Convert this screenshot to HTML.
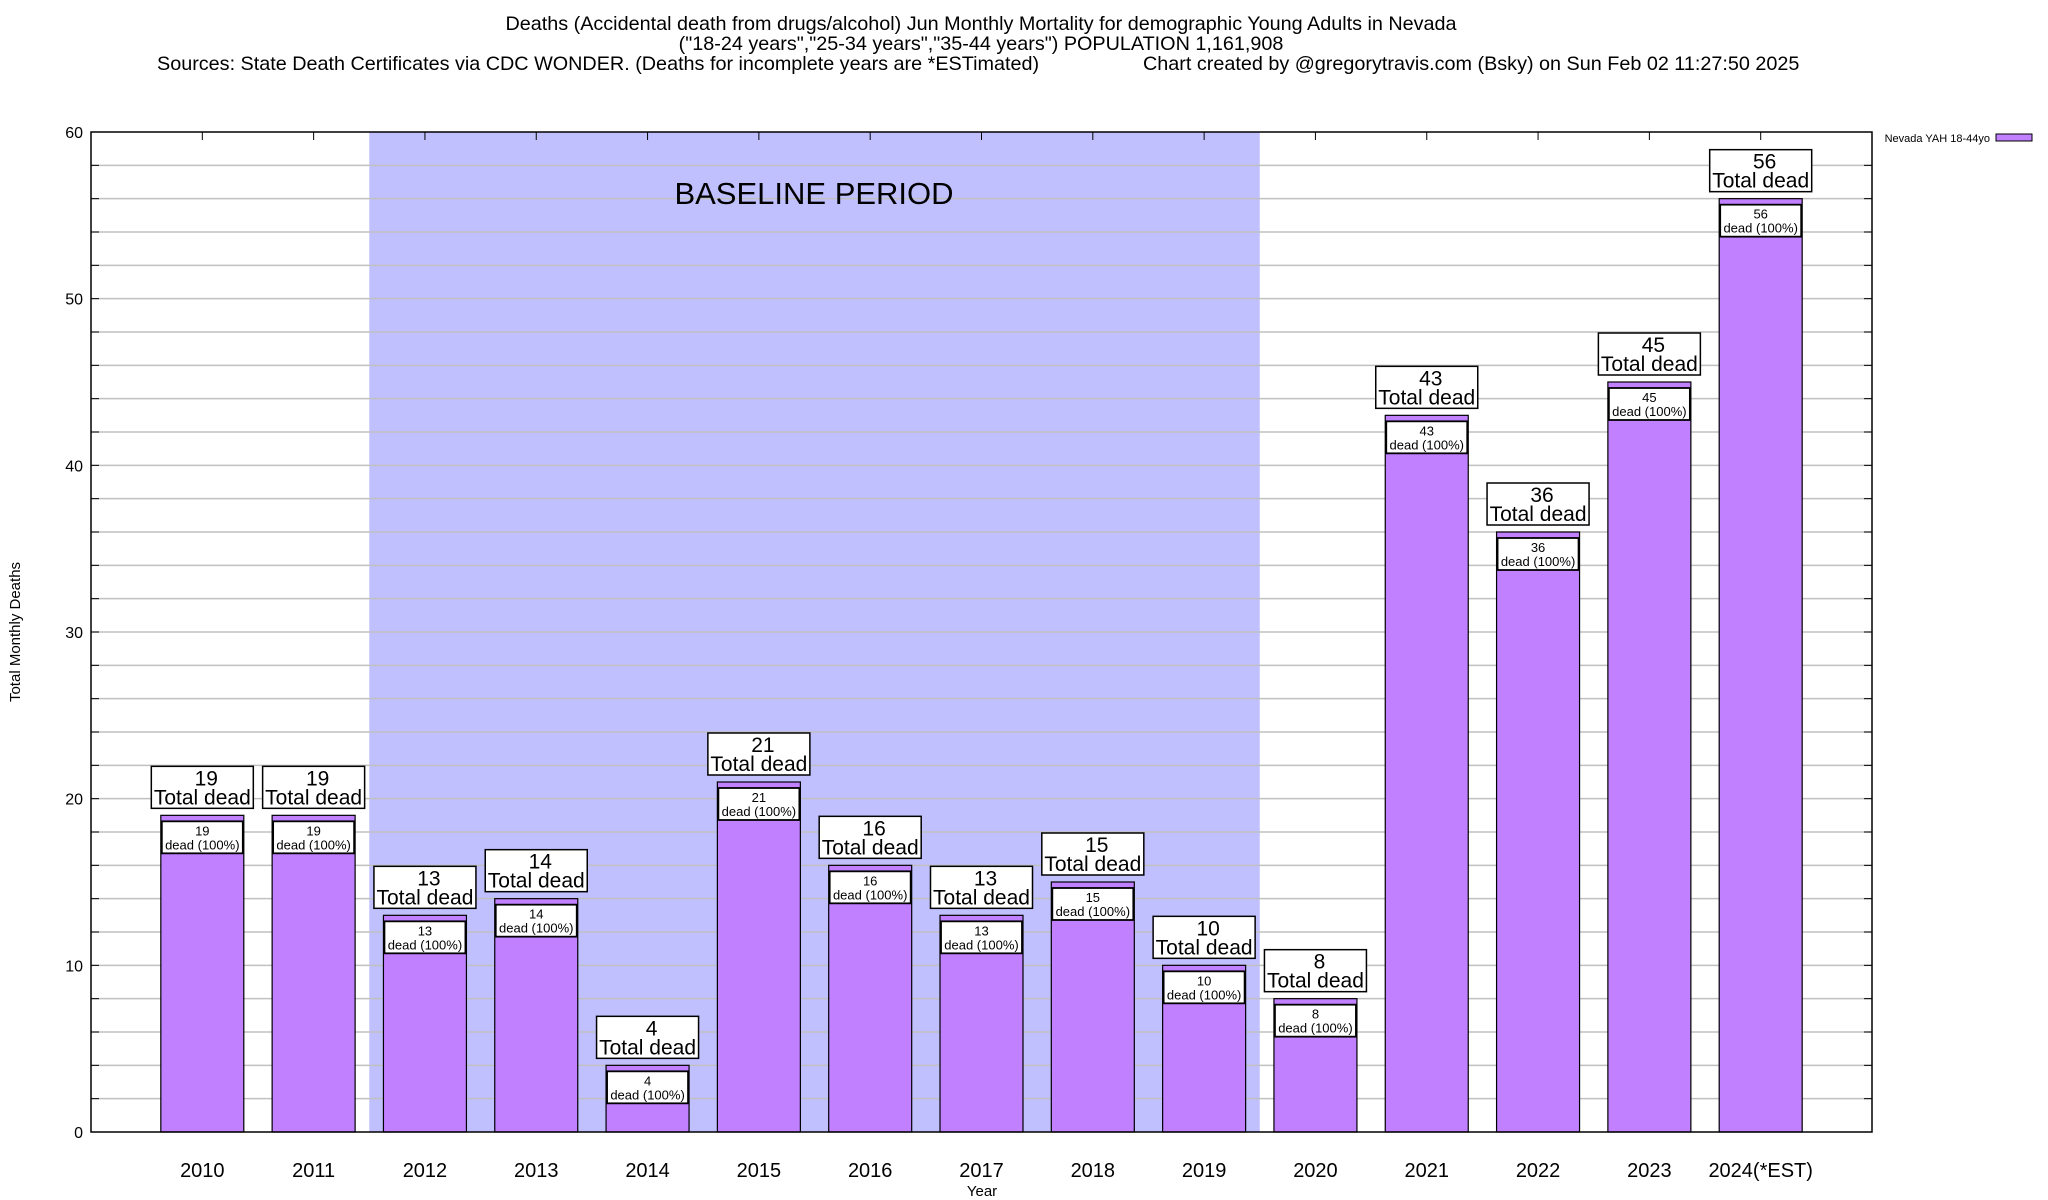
<!DOCTYPE html>
<html><head><meta charset="utf-8"><style>
html,body{margin:0;padding:0;background:#fff;}
svg{display:block;font-family:"Liberation Sans",Arial,sans-serif;}
</style></head><body>
<svg id="chart" width="2048" height="1200" viewBox="0 0 2048 1200" xmlns="http://www.w3.org/2000/svg">
<g font-size="19.8" fill="#000">
<text x="981" y="30" text-anchor="middle">Deaths (Accidental death from drugs/alcohol) Jun Monthly Mortality for demographic Young Adults in Nevada</text>
<text x="981" y="50" text-anchor="middle">("18-24 years","25-34 years","35-44 years") POPULATION 1,161,908</text>
<text x="157" y="70">Sources: State Death Certificates via CDC WONDER. (Deaths for incomplete years are *ESTimated)</text>
<text x="1143" y="70">Chart created by @gregorytravis.com (Bsky) on Sun Feb 02 11:27:50 2025</text>
</g>
<g id="plot"></g>
<text transform="translate(20,632) rotate(-90)" text-anchor="middle" font-size="15">Total Monthly Deaths</text>
<text x="982" y="1196" text-anchor="middle" font-size="15">Year</text>
<g>
<text x="1990" y="142" text-anchor="end" font-size="11">Nevada YAH 18-44yo</text>
<rect x="1996" y="134" width="36" height="7" fill="#c080ff" stroke="#000" stroke-width="1"/>
</g>
</svg>
<script>
const categories = ["2010","2011","2012","2013","2014","2015","2016","2017","2018","2019","2020","2021","2022","2023","2024(*EST)"];
const deaths = [19,19,13,14,4,21,16,13,15,10,8,43,36,45,56];
const yTicks = [0,10,20,30,40,50,60];
const baselineRange = [1.5, 9.5];

const NS = "http://www.w3.org/2000/svg";
const L = 91, R = 1872, T = 132, B = 1132;
const xMin = -1, xMax = 15, yMin = 0, yMax = 60;
const xs = i => L + (i - xMin) / (xMax - xMin) * (R - L);
const ys = v => B - (v - yMin) / (yMax - yMin) * (B - T);
const plot = document.getElementById("plot");
function mk(tag, attrs, parent) {
  const e = document.createElementNS(NS, tag);
  for (const k in attrs) e.setAttribute(k, attrs[k]);
  (parent || plot).appendChild(e);
  return e;
}
// baseline shading
const shade = mk("rect", {x: xs(baselineRange[0]), y: T, width: xs(baselineRange[1]) - xs(baselineRange[0]), height: B - T, fill: "#c0c0ff"});


// grid
for (let v = 2; v < yMax; v += 2) {
  const g = mk("line", {x1: L, x2: R, y1: ys(v), y2: ys(v), stroke: "#c0c0c0", "stroke-width": 1.5});
  
  
  mk("line", {x1: L, x2: L + 8, y1: ys(v), y2: ys(v), stroke: "#000", "stroke-width": 1});
  mk("line", {x1: R - 8, x2: R, y1: ys(v), y2: ys(v), stroke: "#000", "stroke-width": 1});
}
const bt = mk("text", {x: 814, y: 204, "font-size": 31, "text-anchor": "middle"});
bt.textContent = "BASELINE PERIOD";


// y tick labels
yTicks.forEach(v => {
  const t = mk("text", {x: 83, y: ys(v) + 6, "font-size": 16, "text-anchor": "end"});
  t.textContent = v;
  
  
});
// bars
const bw = 83;
deaths.forEach((d, i) => {
  const cx = xs(i), top = ys(d);
  const b = mk("rect", {x: cx - bw / 2, y: top, width: bw, height: B - top, fill: "#c080ff", stroke: "#000", "stroke-width": 1.2});
  
  
  mk("line", {x1: cx, x2: cx, y1: T, y2: T + 8, stroke: "#000", "stroke-width": 1});
  const ib = mk("rect", {x: cx - bw / 2 + 1, y: top + 6, width: bw - 2, height: 32, fill: "#fff", stroke: "#000", "stroke-width": 1.8});
  
  
  const it1 = mk("text", {x: cx, y: top + 20, "font-size": 13, "text-anchor": "middle"});
  it1.textContent = d;
  
  
  const it2 = mk("text", {x: cx, y: top + 34, "font-size": 13, "text-anchor": "middle"});
  it2.textContent = "dead (100%)";
  
  
  const ob = mk("rect", {x: cx - 51, y: top - 49, width: 102, height: 42, fill: "#fff", stroke: "#000", "stroke-width": 1.5});
  
  
  const o1 = mk("text", {x: cx + 4, y: top - 30, "font-size": 21, "text-anchor": "middle"});
  o1.textContent = d;
  
  
  const o2 = mk("text", {x: cx, y: top - 11, "font-size": 21, "text-anchor": "middle"});
  o2.textContent = "Total dead";
  
  
  const xl = mk("text", {x: cx, y: 1177, "font-size": 20, "text-anchor": "middle"});
  xl.textContent = categories[i];
  
  
});
const fr = mk("rect", {x: L, y: T, width: R - L, height: B - T, fill: "none", stroke: "#000", "stroke-width": 1.5});


</script>
</body></html>
